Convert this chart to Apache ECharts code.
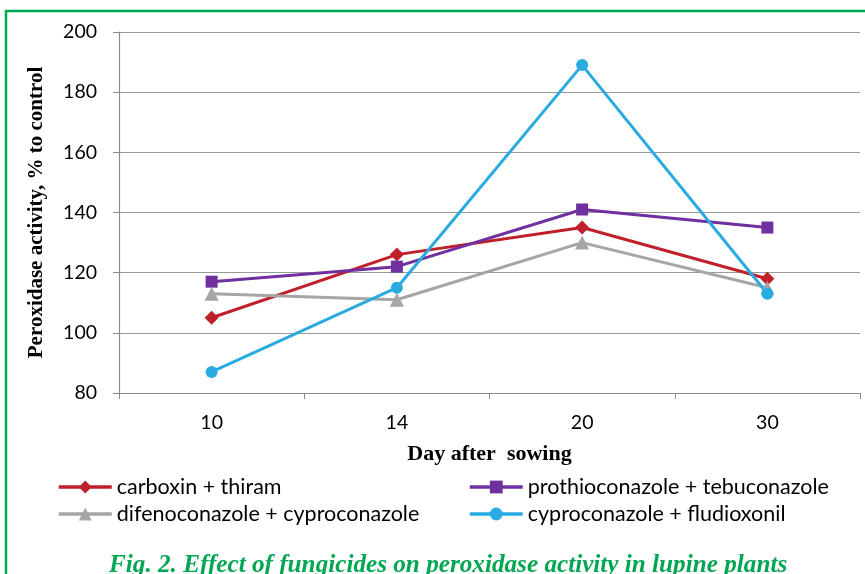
<!DOCTYPE html>
<html>
<head>
<meta charset="utf-8">
<script src="https://cdn.jsdelivr.net/npm/echarts@6/dist/echarts.min.js"></script>
<style>
  html, body { margin: 0; padding: 0; background: #fff; }
  #chart { width: 865px; height: 574px; }
</style>
</head>
<body>
<div id="chart"></div>
<script>
var days = ["10", "14", "20", "30"];
var carboxinThiram = [105, 126, 135, 118];
var prothioTebu = [117, 122, 141, 135];
var difenoCypro = [113, 111, 130, 115];
var cyproFludi = [87, 115, 189, 113];

var chart = echarts.init(document.getElementById("chart"));
var tickFont = "Lato, 'Open Sans', sans-serif";
var serif = "'Liberation Serif', 'DejaVu Serif', serif";

function line(name, data, color, symbol, size) {
  return {
    name: name,
    type: "line",
    data: data,
    symbol: symbol,
    symbolSize: size,
    lineStyle: { color: color, width: 3 },
    itemStyle: { color: color },
    emphasis: { disabled: true }
  };
}

var legendBase = {
  orient: "vertical",
  top: 476,
  padding: 0,
  itemWidth: 53,
  itemHeight: 16,
  itemGap: 5,
  lineStyle: { width: 3.5 },
  textStyle: { fontFamily: tickFont, fontSize: 21.5, color: "#000" }
};

var option = {
  animation: false,
  grid: { left: 119, right: 5, top: 32, bottom: 181 },
  graphic: [
    {
      type: "rect",
      shape: { x: 6, y: 11, width: 900, height: 600 },
      style: { fill: "none", stroke: "#00a651", lineWidth: 2.5 }
    }
  ],
  title: {
    text: "Fig. 2. Effect of fungicides on peroxidase activity in lupine plants",
    left: 104,
    top: 548,
    textStyle: {
      fontFamily: serif,
      fontStyle: "italic",
      fontWeight: "bold",
      fontSize: 25.2,
      color: "#00a651"
    }
  },
  legend: [
    Object.assign({}, legendBase, {
      left: 57,
      data: ["carboxin + thiram", "difenoconazole + cyproconazole"]
    }),
    Object.assign({}, legendBase, {
      left: 468,
      data: ["prothioconazole + tebuconazole", "cyproconazole + fludioxonil"]
    })
  ],
  xAxis: {
    type: "category",
    data: days,
    boundaryGap: true,
    name: "Day after  sowing",
    nameLocation: "middle",
    nameGap: 50,
    nameTextStyle: { fontFamily: serif, fontWeight: "bold", fontSize: 22, color: "#000" },
    axisLine: { lineStyle: { color: "#8c8c8c", width: 1.2 } },
    axisTick: { show: true, length: 6, lineStyle: { color: "#8c8c8c" } },
    axisLabel: { fontFamily: tickFont, fontSize: 19.5, color: "#000", margin: 20 }
  },
  yAxis: {
    type: "value",
    min: 80,
    max: 200,
    interval: 20,
    name: "Peroxidase activity, % to control",
    nameLocation: "middle",
    nameGap: 72,
    nameTextStyle: { fontFamily: serif, fontWeight: "bold", fontSize: 21, color: "#000" },
    axisLine: { show: true, lineStyle: { color: "#8c8c8c", width: 1.2 } },
    axisTick: { show: true, length: 6, lineStyle: { color: "#8c8c8c" } },
    axisLabel: { fontFamily: tickFont, fontSize: 19.5, color: "#000", margin: 22 },
    splitLine: { lineStyle: { color: "#999", width: 1.2 } }
  },
  series: [
    line("carboxin + thiram", carboxinThiram, "#c0202a", "diamond", 14),
    line("prothioconazole + tebuconazole", prothioTebu, "#7030a0", "rect", 12),
    line("difenoconazole + cyproconazole", difenoCypro, "#a6a6a6", "triangle", 14),
    line("cyproconazole + fludioxonil", cyproFludi, "#29abe2", "circle", 12)
  ]
};

chart.setOption(option);
</script>
</body>
</html>
